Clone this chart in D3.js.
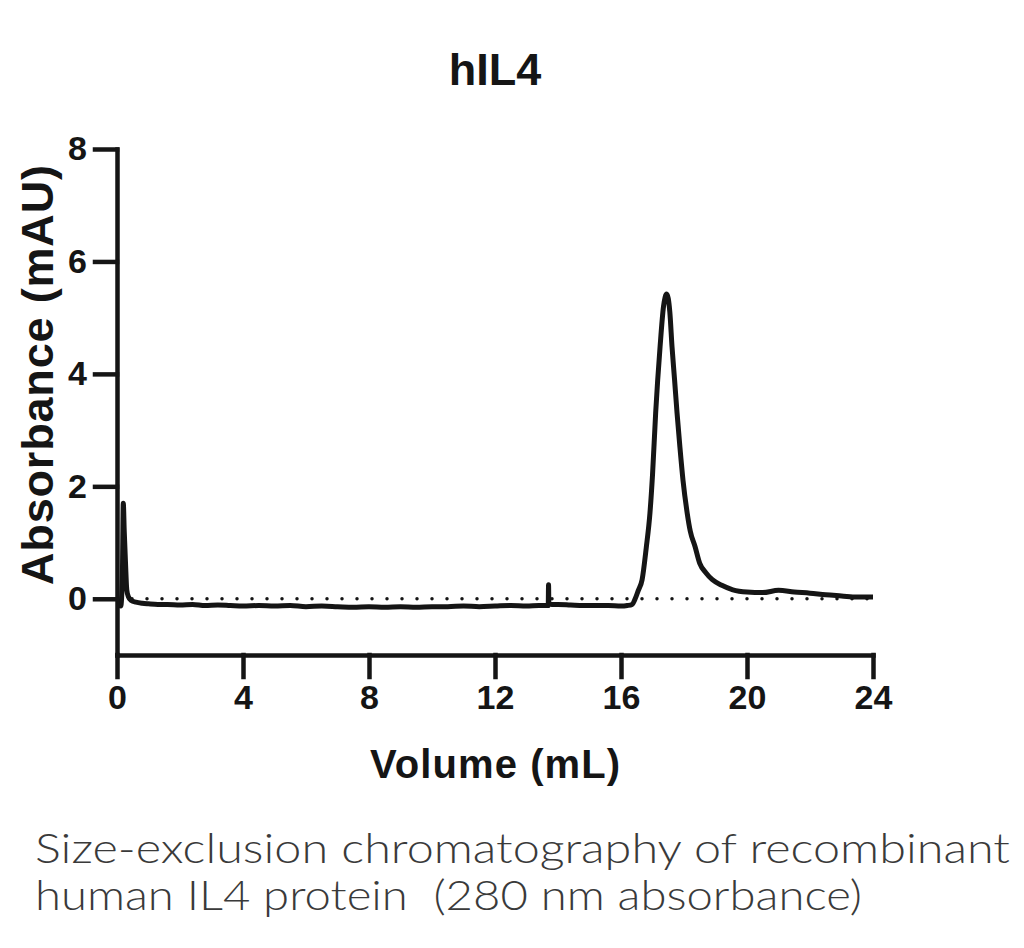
<!DOCTYPE html>
<html>
<head>
<meta charset="utf-8">
<script src="https://cdn.jsdelivr.net/npm/d3@7"></script>
<style>
	body { margin: 0; background: #fff; }
	svg { display: block; }
</style>
</head>
<body>
<svg id="chart" width="1024" height="948"></svg>
<script>

	// SEC trace: elution volume (mL) and A280 (mAU)
	var volume = [
		0.05, 0.12, 0.17, 0.2, 0.23, 0.27, 0.31, 0.36, 0.45, 0.6, 0.8, 1.0, 1.3, 1.6, 2.0,
		2.4, 2.8, 3.2, 3.6, 4.0, 4.5, 5.0, 5.5, 6.0, 6.5, 7.0, 7.5, 8.0, 8.5, 9.0, 9.5,
		10.0, 10.5, 11.0, 11.5, 12.0, 12.5, 13.0, 13.4, 13.69, 13.7, 13.71, 13.8, 14.0,
		14.4, 14.8, 15.2, 15.6, 16.0, 16.2, 16.35,
		16.45, 16.55, 16.67, 16.8, 16.92, 17.0, 17.1, 17.24, 17.35, 17.45, 17.55, 17.62,
		17.7, 17.78, 17.87, 17.97, 18.1, 18.2, 18.35, 18.5, 18.7, 18.9, 19.2, 19.55,
		20.0, 20.5, 21.0, 21.5, 22.0, 22.5, 23.0, 23.5, 24.0
	];
	var absorbance = [
		-0.12, -0.13, 0.4, 1.7, 1.2, 0.64, 0.16, 0.04, -0.03, -0.06, -0.08, -0.09, -0.1, -0.1, -0.11,
		-0.1, -0.12, -0.11, -0.12, -0.13, -0.12, -0.13, -0.12, -0.14, -0.13, -0.14, -0.15, -0.14, -0.15, -0.14, -0.15,
		-0.14, -0.14, -0.13, -0.14, -0.13, -0.12, -0.13, -0.12, -0.12, 0.25, -0.08, -0.1, -0.1,
		-0.11, -0.12, -0.12, -0.12, -0.13, -0.12, -0.1,
		0.0, 0.15, 0.34, 0.9, 1.53, 2.2, 3.3, 4.48, 5.2, 5.42, 5.1, 4.48,
		3.9, 3.3, 2.7, 2.1, 1.53, 1.2, 0.93, 0.63, 0.46, 0.34, 0.24, 0.16,
		0.12, 0.11, 0.15, 0.12, 0.1, 0.07, 0.05, 0.03, 0.03
	];

	var xTicks = [0, 4, 8, 12, 16, 20, 24];
	var yTicks = [0, 2, 4, 6, 8];

	var title = "hIL4",
		xTitle = "Volume (mL)",
		yTitle = "Absorbance (mAU)",
		caption = ["Size-exclusion chromatography of recombinant",
			"human IL4 protein  (280 nm absorbance)"];

	var svg = d3.select("#chart"),
		ink = "#151515",
		boldFont = "'Liberation Sans', Arial, sans-serif";

	var x = d3.scaleLinear().domain([0, 24]).range([117, 873]),
		y = d3.scaleLinear().domain([-1, 8]).range([655, 149]);

	// dotted zero line sits under the trace
	svg.append("line")
		.attr("x1", x(0)).attr("x2", x(24))
		.attr("y1", y(0)).attr("y2", y(0))
		.attr("stroke", ink)
		.attr("stroke-width", 3.5)
		.attr("stroke-linecap", "round")
		.attr("stroke-dasharray", "0 15");

	var points = volume.map(function(v, i) { return [v, absorbance[i]]; });

	svg.append("path")
		.datum(points)
		.attr("fill", "none")
		.attr("stroke", ink)
		.attr("stroke-width", 5)
		.attr("stroke-linejoin", "round")
		.attr("d", d3.line()
			.x(function(d) { return x(d[0]); })
			.y(function(d) { return y(d[1]); })
			.curve(d3.curveMonotoneX));

	// axes, Prism style: thick lines, long outside ticks
	function styleAxis(g) {
		g.selectAll(".domain, .tick line")
			.attr("stroke", ink)
			.attr("stroke-width", 4.5)
			.attr("stroke-linecap", "square");
		g.selectAll(".tick text")
			.attr("fill", ink)
			.style("font-family", boldFont)
			.style("font-weight", "bold")
			.style("font-size", "34px");
	}

	svg.append("g")
		.attr("transform", "translate(0," + y(-1) + ")")
		.call(d3.axisBottom(x).tickValues(xTicks).tickSize(22).tickSizeOuter(0).tickPadding(8))
		.call(styleAxis);

	svg.append("g")
		.attr("transform", "translate(" + x(0) + ",0)")
		.call(d3.axisLeft(y).tickValues(yTicks).tickSize(22).tickSizeOuter(0).tickPadding(8))
		.call(styleAxis);

	svg.append("text")
		.attr("x", 495).attr("y", 85)
		.attr("text-anchor", "middle")
		.attr("fill", ink)
		.style("font-family", boldFont)
		.style("font-weight", "bold")
		.style("font-size", "45px")
		.text(title);

	svg.append("text")
		.attr("x", 495).attr("y", 778)
		.attr("text-anchor", "middle")
		.attr("textLength", 250)
		.attr("fill", ink)
		.style("font-family", boldFont)
		.style("font-weight", "bold")
		.style("font-size", "40px")
		.text(xTitle);

	svg.append("text")
		.attr("transform", "translate(53,375) rotate(-90)")
		.attr("text-anchor", "middle")
		.attr("textLength", 420)
		.attr("fill", ink)
		.style("font-family", boldFont)
		.style("font-weight", "bold")
		.style("font-size", "45px")
		.text(yTitle);

	// caption below the figure
	var capWidths = [975, 827];
	svg.selectAll(".caption")
		.data(caption)
		.enter().append("text")
			.attr("class", "caption")
			.attr("x", 35)
			.attr("y", function(d, i) { return 863 + i * 47; })
			.attr("textLength", function(d, i) { return capWidths[i]; })
			.attr("lengthAdjust", "spacingAndGlyphs")
			.attr("fill", "#3a3a3a")
			.style("white-space", "pre")
			.style("font-family", "Lato, 'Noto Sans', sans-serif")
			.style("font-weight", 300)
			.style("font-size", "41px")
			.text(function(d) { return d; });

</script>
</body>
</html>
